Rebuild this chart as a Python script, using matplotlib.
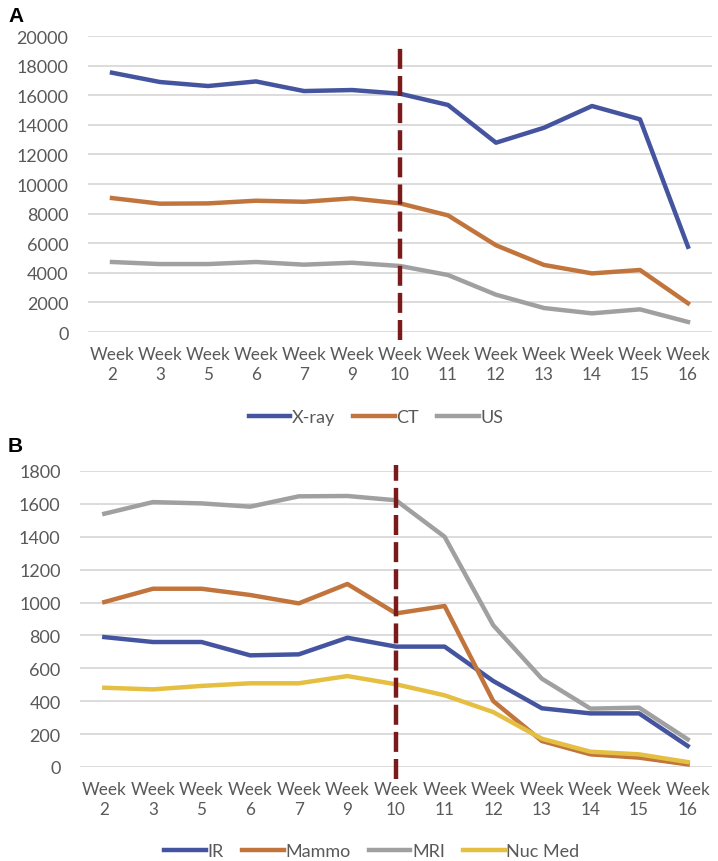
import matplotlib
matplotlib.use("Agg")
import matplotlib.pyplot as plt

plt.rcParams['font.family'] = ['Lato', 'DejaVu Sans']

# data
weeks = ["Week\n2", "Week\n3", "Week\n5", "Week\n6", "Week\n7", "Week\n9", "Week\n10",
         "Week\n11", "Week\n12", "Week\n13", "Week\n14", "Week\n15", "Week\n16"]

xray = [17520, 16890, 16620, 16930, 16280, 16350, 16100, 15340, 12790, 13800, 15270, 14370, 5760]
ct = [9050, 8670, 8690, 8870, 8800, 9030, 8690, 7880, 5860, 4530, 3960, 4190, 1940]
us = [4730, 4590, 4590, 4730, 4550, 4680, 4460, 3850, 2520, 1620, 1260, 1530, 680]

ir = [790, 760, 760, 679, 685, 786, 732, 732, 523, 357, 326, 326, 128]
mammo = [1003, 1084, 1084, 1046, 995, 1113, 934, 979, 401, 158, 77, 57, 16]
mri = [1540, 1611, 1603, 1583, 1646, 1648, 1622, 1400, 862, 537, 355, 361, 168]
nucmed = [482, 472, 493, 509, 509, 553, 503, 436, 334, 172, 93, 77, 30]

cutoff_week = 6  # index of "Week 10"

BLUE = "#45549e"
ORANGE = "#c1753d"
GRAY = "#a0a0a0"
YELLOW = "#e5bf42"
DASH = "#7a1a1a"
GRID = "#d9d9d9"
TXT = "#595959"
FS = 13

fig = plt.figure(figsize=(7.18, 8.62), dpi=100)
axA = fig.add_axes([88/718, 1-333/862, 624/718, 296/862])
axB = fig.add_axes([80/718, 1-768/862, 632/718, 296/862])


def style(ax, ymax, step, dash_top, dash_bot):
    x = range(len(weeks))
    ax.set_xlim(-0.5, len(weeks) - 0.5)
    ax.set_ylim(0, ymax)
    ax.set_yticks(range(0, ymax + 1, step))
    ax.set_xticks(list(x))
    ax.set_xticklabels(weeks, linespacing=1.3)
    ax.grid(axis='y', color=GRID, linewidth=1.3)
    ax.set_axisbelow(True)
    for s in ax.spines.values():
        s.set_visible(False)
    ax.tick_params(axis='both', length=0, labelsize=FS, labelcolor=TXT)
    ax.tick_params(axis='y', pad=14)
    ax.tick_params(axis='x', pad=10, labelsize=12.3)
    ax.plot([cutoff_week, cutoff_week], [dash_bot, dash_top], color=DASH, lw=3.2,
            dashes=(4.5, 1.6), clip_on=False, zorder=5)


x = range(len(weeks))

# Panel A
la1, = axA.plot(x, xray, color=BLUE, lw=3.2, label="X-ray", solid_joinstyle='round')
la2, = axA.plot(x, ct, color=ORANGE, lw=3.2, label="CT", solid_joinstyle='round')
la3, = axA.plot(x, us, color=GRAY, lw=3.2, label="US", solid_joinstyle='round')
style(axA, 20000, 2000, 19460, -540)
axA.legend(handles=[la1, la2, la3], loc='center', bbox_to_anchor=(376/718, 1-418/862),
           bbox_transform=fig.transFigure, ncol=3, frameon=False, fontsize=FS,
           handlelength=2.3, handletextpad=0.1, columnspacing=1.0, labelcolor=TXT)

# Panel B
lb1, = axB.plot(x, ir, color=BLUE, lw=3.2, label="IR", solid_joinstyle='round')
lb2, = axB.plot(x, mammo, color=ORANGE, lw=3.2, label="Mammo", solid_joinstyle='round')
lb3, = axB.plot(x, mri, color=GRAY, lw=3.2, label="MRI", solid_joinstyle='round')
lb4, = axB.plot(x, nucmed, color=YELLOW, lw=3.2, label="Nuc Med", solid_joinstyle='round')
style(axB, 1800, 200, 1836, -73)
axB.legend(handles=[lb1, lb2, lb3, lb4], loc='center', bbox_to_anchor=(372/718, 1-852/862),
           bbox_transform=fig.transFigure, ncol=4, frameon=False, fontsize=FS,
           handlelength=2.3, handletextpad=0.1, columnspacing=1.0, labelcolor=TXT)

fig.text(8/718, 1-16/862, "A", fontsize=15, fontweight='bold', family=['Liberation Sans', 'DejaVu Sans'], va='center')
fig.text(8/718, 1-447/862, "B", fontsize=15, fontweight='bold', family=['Liberation Sans', 'DejaVu Sans'], va='center')

fig.savefig("out.png", dpi=100)
